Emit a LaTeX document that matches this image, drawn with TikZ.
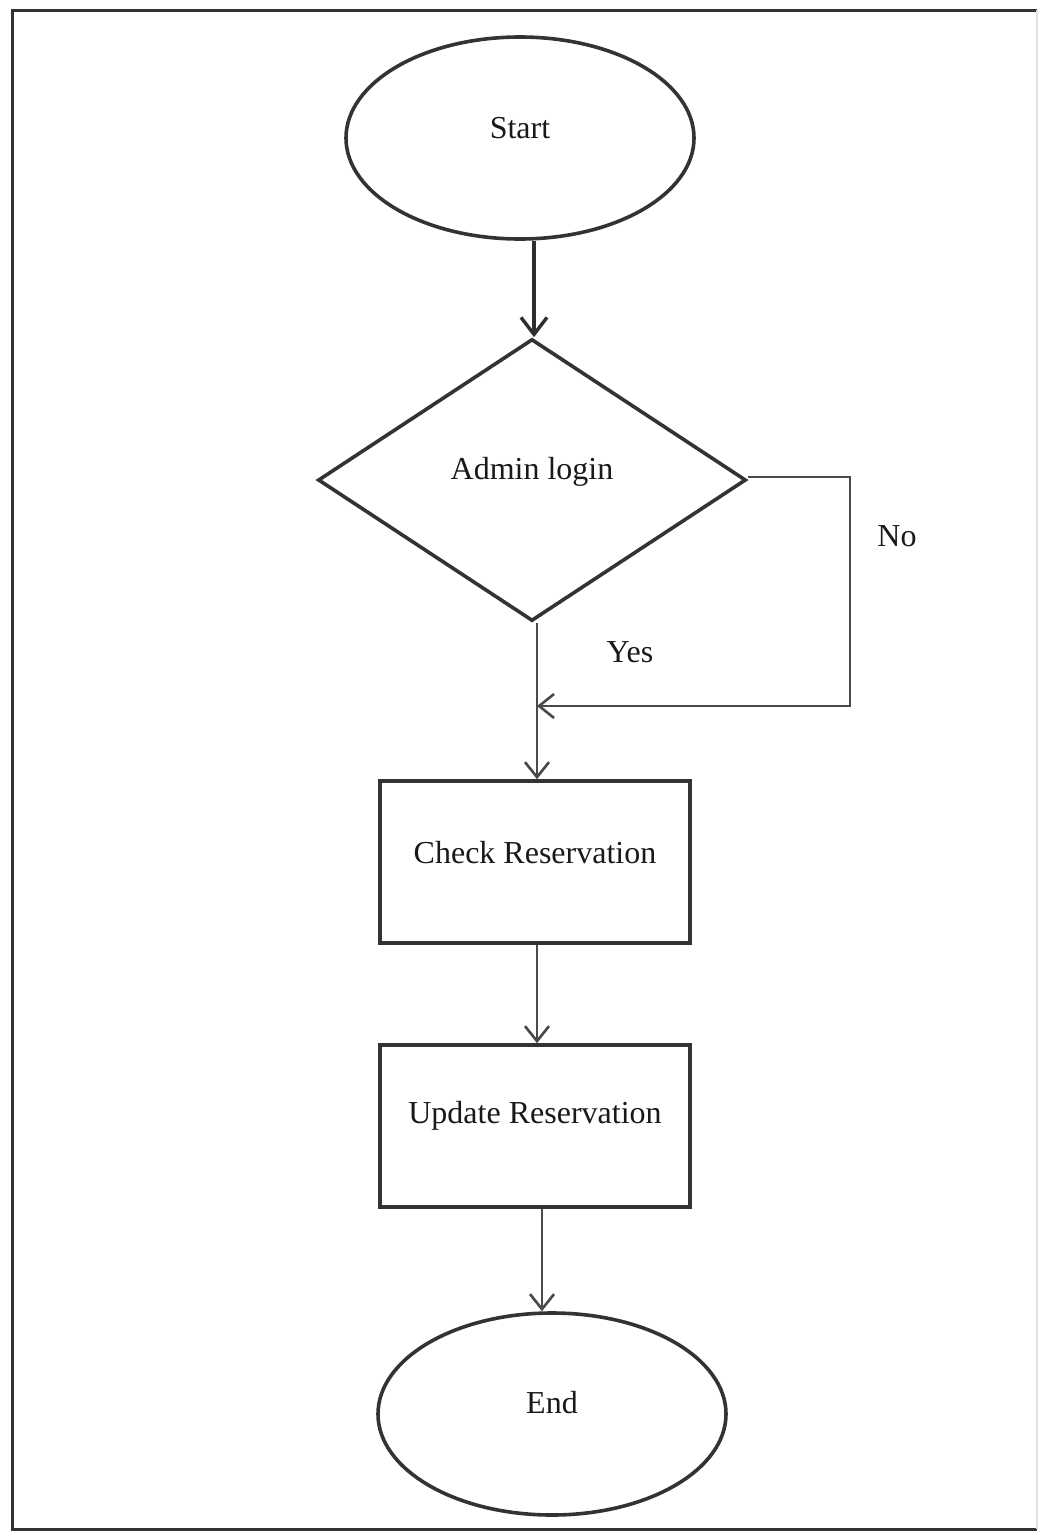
\documentclass[tikz,border=0pt]{standalone}
\usepackage{fontspec}
\setmainfont{Liberation Serif}
\usetikzlibrary{shapes.geometric,arrows.meta}
\definecolor{ink}{HTML}{333333}
\definecolor{wire}{HTML}{4A4A4A}
\tikzset{
  base/.style={draw=ink, line width=3.6pt, inner sep=0pt, text=black!90,
    font=\fontsize{32}{38}\selectfont},
  terminal/.style={base, ellipse, minimum width=348pt, minimum height=202pt},
  decision/.style={base, diamond, minimum width=428pt, minimum height=282pt},
  process/.style={base, rectangle, minimum width=310pt, minimum height=162pt},
  flow/.style={draw=wire, line width=2.6pt,
    -{Straight Barb[length=15pt, width=24pt, line width=2.6pt]}},
  boldflow/.style={draw=ink!90!black, line width=3.4pt,
    -{Straight Barb[length=17pt, width=26pt, line width=3.4pt]}},
  tag/.style={font=\fontsize{32}{38}\selectfont, text=black!90}
}
\begin{document}
\begin{tikzpicture}[x=1pt, y=-1pt]
  \useasboundingbox (0,0) rectangle (1039,1532);
  % page frame: the right edge is only faintly printed
  \draw[ink, line width=3pt] (1037,10) -- (12,10) -- (12,1529) -- (1037,1529);
  \draw[black!12, line width=2pt] (1037,10) -- (1037,1529);

  % shapes
  \node[terminal, label={[tag, yshift=10pt]center:Start}] (start) at (520,138) {};
  \node[decision, label={[tag, yshift=8pt]center:Admin login}] (login) at (532,480) {};
  \node[process, label={[tag, yshift=9pt]center:Check Reservation}] (check) at (535,862) {};
  \node[process, label={[tag, yshift=10pt]center:Update Reservation}] (update) at (535,1126) {};
  \node[terminal, label={[tag, yshift=11pt]center:End}] (stop) at (552,1414) {};

  \coordinate (merge) at (537,706);

  % connectors
  \draw[boldflow] ([xshift=2pt]login.north |- start.south) -- ([xshift=2pt]login.north);
  \draw[flow] ([yshift=3pt]login.east) -- ++(102,0) |- (merge);
  \draw[flow] (login.south -| merge) -- (merge |- check.north);
  \draw[flow] (check.south -| merge) -- (merge |- update.north);
  \draw[flow] ([xshift=7pt]update.south) -- ([xshift=7pt]update.south |- stop.north);

  % branch labels
  \node[tag] (nolabel) at (897,536) {No};
  \node[tag] (yeslabel) at (630,652) {Yes};
\end{tikzpicture}
\end{document}
